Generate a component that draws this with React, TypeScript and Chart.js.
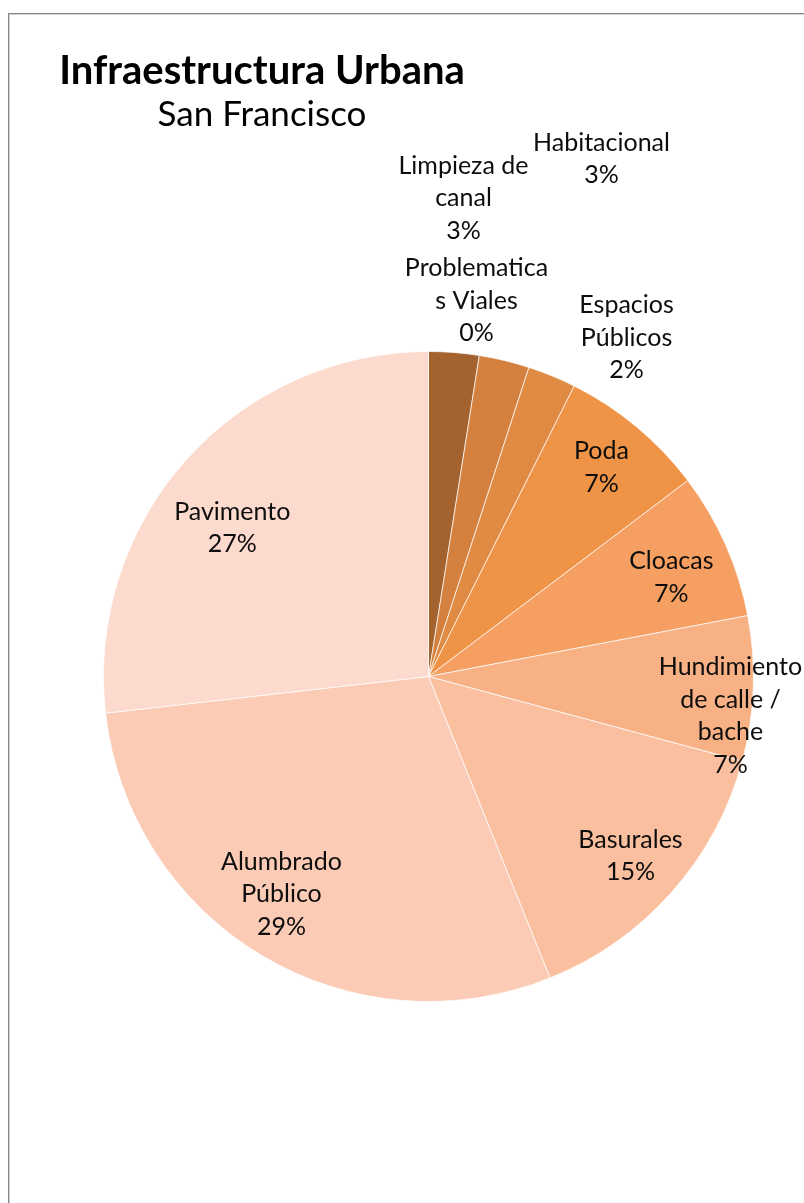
import React, { useEffect, useRef } from "react";
import { Chart, registerables } from "chart.js";

Chart.register(...registerables);

// ---------- data ----------
const CATEGORIES = [
  "Limpieza de canal",
  "Problematicas Viales",
  "Habitacional",
  "Espacios Públicos",
  "Poda",
  "Cloacas",
  "Hundimiento de calle / bache",
  "Basurales",
  "Alumbrado Público",
  "Pavimento",
];
const VALUES = [2.5, 0, 2.5, 2.4, 7.3, 7.3, 7.2, 14.7, 29.3, 26.8];
const LABEL_LINES = [
  ["Limpieza de", "canal"],
  ["Problematica", "s Viales"],
  ["Habitacional"],
  ["Espacios", "Públicos"],
  ["Poda"],
  ["Cloacas"],
  ["Hundimiento", "de calle /", "bache"],
  ["Basurales"],
  ["Alumbrado", "Público"],
  ["Pavimento"],
];
const TITLE = "Infraestructura Urbana";
const SUBTITLE = "San Francisco";

// ---------- style / layout ----------
const COLORS = [
  "#A4622E",
  "#BC6F34",
  "#D4813F",
  "#E08B43",
  "#EF9447",
  "#F5A062",
  "#F8B185",
  "#F9BF9F",
  "#FBCBB5",
  "#FCDACD",
];
// label block centre: [angle in degrees clockwise from 12 o'clock, distance as a fraction of the radius]
const LABEL_POLAR = [
  [4.18, 1.476],
  [7.28, 1.165],
  [18.48, 1.679],
  [30.32, 1.207],
  [39.6, 0.835],
  [67.8, 0.807],
  [97.4, 0.937],
  [131.6, 0.831],
  [214.05, 0.808],
  [307.1, 0.757],
];
const FONT = "Lato, 'Open Sans', sans-serif";
const LABEL_SIZE = 25;
const LINE_H = 32.5;
const TITLE_POS = { x: 252, y: 69, size: 40 };
const SUB_POS = { x: 252, y: 111, size: 35 };

const labelPlugin = {
  id: "excelLabels",
  afterDatasetsDraw(chart: any) {
    const ctx = chart.ctx;
    const meta = chart.getDatasetMeta(0);
    const first = meta.data[0];
    if (!first) return;
    const { x, y, outerRadius } = first.getProps(["x", "y", "outerRadius"], true);
    const total = VALUES.reduce((a, b) => a + b, 0);
    ctx.save();
    ctx.fillStyle = "#0d0d0d";
    ctx.textAlign = "center";
    ctx.textBaseline = "middle";
    ctx.font = `${LABEL_SIZE}px ${FONT}`;
    VALUES.forEach((v, i) => {
      const [deg, f] = LABEL_POLAR[i];
      const a = (deg * Math.PI) / 180;
      const cx = x + Math.sin(a) * f * outerRadius;
      const cy = y - Math.cos(a) * f * outerRadius;
      const lines = [...LABEL_LINES[i], Math.round((v / total) * 100) + "%"];
      const n = lines.length;
      lines.forEach((t, j) => {
        ctx.fillText(t, cx, cy + (j - (n - 1) / 2) * LINE_H);
      });
    });
    // titles
    ctx.textBaseline = "alphabetic";
    ctx.fillStyle = "#000000";
    ctx.font = `bold ${TITLE_POS.size}px ${FONT}`;
    ctx.fillText(TITLE, TITLE_POS.x, TITLE_POS.y);
    ctx.font = `${SUB_POS.size}px ${FONT}`;
    ctx.fillText(SUBTITLE, SUB_POS.x, SUB_POS.y);
    ctx.restore();
  },
};

export default function App() {
  const ref = useRef<HTMLCanvasElement | null>(null);
  useEffect(() => {
    if (!ref.current) return;
    const chart = new Chart(ref.current, {
      type: "pie",
      data: {
        labels: CATEGORIES,
        datasets: [
          {
            data: VALUES,
            backgroundColor: COLORS,
            borderColor: "rgba(255,255,255,0.7)",
            borderWidth: 1,
          },
        ],
      },
      options: {
        animation: false,
        responsive: true,
        maintainAspectRatio: false,
        layout: { padding: { left: 93, right: 51, top: 336, bottom: 202 } },
        plugins: {
          legend: { display: false },
          tooltip: { enabled: false },
          title: { display: false },
        },
      },
      plugins: [labelPlugin],
    });
    return () => chart.destroy();
  }, []);
  return (
    <div
      style={{
        position: "fixed",
        left: 0,
        top: 0,
        width: 804,
        height: 1203,
        overflow: "hidden",
        background: "#ffffff",
      }}
    >
      <div
        style={{
          position: "absolute",
          left: 8,
          top: 13,
          width: 860,
          height: 1260,
          borderLeft: "1px solid #868686",
          borderTop: "1px solid #868686",
          boxShadow: "inset 1px 1px 0 #d2d2d2",
        }}
      >
        <div style={{ position: "absolute", left: 1, top: 1, width: 795, height: 1189 }}>
          <canvas ref={ref} />
        </div>
      </div>
    </div>
  );
}
